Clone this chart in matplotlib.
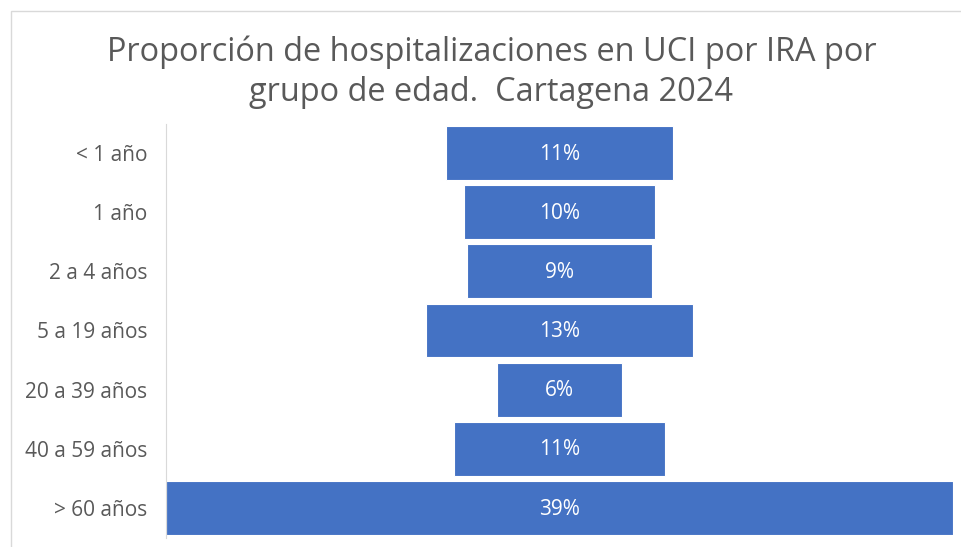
import matplotlib.pyplot as plt
from matplotlib.patches import Rectangle

# grupos de edad, de arriba hacia abajo
grupos = ["< 1 año", "1 año", "2 a 4 años", "5 a 19 años",
          "20 a 39 años", "40 a 59 años", "> 60 años"]
proporcion = [11.4, 9.6, 9.3, 13.4, 6.3, 10.6, 39.4]

titulo = "Proporción de hospitalizaciones en UCI por IRA por\ngrupo de edad.  Cartagena 2024"

gris = "#595959"
azul = "#4472C4"

plt.rcParams['font.family'] = ['Open Sans', 'DejaVu Sans']

fig = plt.figure(figsize=(9.61, 5.47), dpi=100)
W, H = 961, 547
ax = fig.add_axes([166 / W, 1 - 537.5 / H, (953 - 166) / W, (537.5 - 123.5) / H])

# embudo: cada barra centrada en cero
n = len(grupos)
ypos = list(range(n))
lefts = [-v / 2 for v in proporcion]
bars = ax.barh(ypos, proporcion, left=lefts, height=0.91,
               color=azul, edgecolor="white", linewidth=0.8)

for y, v in zip(ypos, proporcion):
    ax.text(0, y + 0.02, f"{round(v):.0f}%", ha="center", va="center",
            color="white", fontsize=15)

m = max(proporcion)
ax.set_xlim(-m / 2, m / 2)
ax.set_ylim(n - 0.5, -0.5)
ax.set_yticks(ypos)
ax.set_yticklabels(grupos, color=gris, fontsize=15)
ax.tick_params(axis="y", length=0, pad=13.5)
ax.set_xticks([])
for s in ["top", "right", "bottom"]:
    ax.spines[s].set_visible(False)
ax.spines["left"].set_color("#D9D9D9")

fig.text(491.5 / W, 1 - 72 / H, titulo, ha="center", va="center",
         color=gris, fontsize=23.4, linespacing=1.28)

# borde del area del grafico
fig.patches.append(Rectangle((11 / W, -0.1), 1.1, 1 - 11 / H + 0.1,
                             transform=fig.transFigure, fill=False,
                             edgecolor="#D9D9D9", linewidth=1))

fig.savefig("out.png", dpi=100, facecolor="white")
